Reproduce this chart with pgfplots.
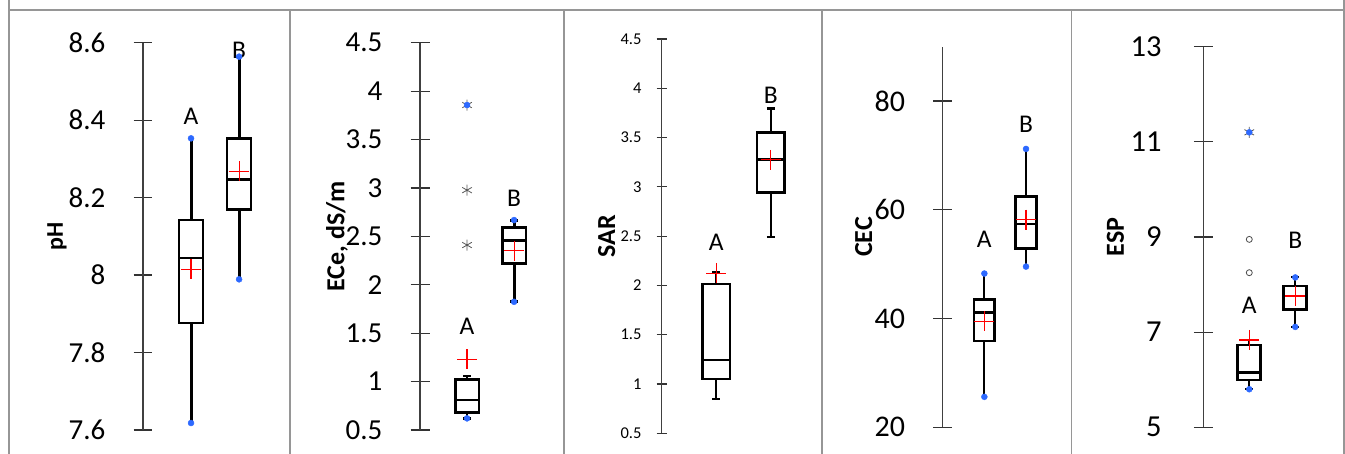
\documentclass[border=0pt]{standalone}
\usepackage{fontspec}
\setmainfont{Carlito}
\usepackage{pgfplots}
\pgfplotsset{compat=1.18}
\usepgfplotslibrary{statistics}
\definecolor{dotblue}{RGB}{45,105,255}
\definecolor{framegray}{RGB}{150,150,150}
\tikzset{letter/.style={font=\fontsize{25.5}{26}\selectfont}}
\pgfplotsset{
  panel/.style={
    scale only axis, clip=false,
    axis x line=none, axis y line=left,
    y axis line style={-, line width=1.2pt, black!75},
    xmin=0, xtick=\empty,
    tick align=center, major tick length=19pt,
    ytick style={line width=1.2pt, black!80},
    yticklabel style={inner sep=0pt, anchor=east, xshift=-28pt, /pgf/number format/assume math mode=true},
    ylabel style={anchor=center, font=\fontsize{26}{27}\selectfont\bfseries},
    boxplot/draw direction=y,
    boxplot/box extend=0.5,
  },
  bx/.style={draw=black, solid, mark=none,
    boxplot/every box/.style={draw=black, line width=2.6pt, fill=white},
    boxplot/every median/.style={line width=2.6pt},
    boxplot/every whisker/.style={line width=#1}},
  ends/.style={only marks, mark=*, mark size=3pt, color=dotblue},
  avg/.style={only marks, mark=+, mark size=10pt, color=red, draw=red, mark options={draw=red, line width=1.1pt}},
  star/.style={only marks, mark=asterisk, mark size=5.5pt, color=black!65, mark options={line width=0.8pt}},
  circ/.style={only marks, mark=o, mark size=3pt, color=black!70, mark options={line width=0.8pt}},
}
\begin{document}
\begin{tikzpicture}
\useasboundingbox (0,0) rectangle (1345pt,454pt);
\fill[white] (0,0) rectangle (1345pt,454pt);
% frame
\draw[framegray, line width=1.5pt] (9pt,454pt) -- (9pt,444pt) -- (1344pt,444pt) -- (1344pt,454pt);
\draw[framegray, line width=1.5pt] (1344pt,444pt) -- (1344pt,0pt);
\draw[framegray, line width=1.5pt] (9pt,444pt) -- (9pt,0pt);
\foreach \xx in {290,564,822,1071.5} \draw[framegray, line width=1.5pt] (\xx pt,444pt) -- (\xx pt,0pt);

% ---------- Panel 1: pH
\begin{axis}[panel, at={(143pt,24pt)}, anchor=south west,
  width=147pt, height=387.3pt, xmax=3.06,
  ymin=7.6, ymax=8.6, ytick={7.6,7.8,8,8.2,8.4,8.6},
  yticklabel style={font=\fontsize{29}{30}\selectfont},
  ylabel={pH}, ylabel style={at={(axis description cs:-0.585,0.5)}, font=\fontsize{24}{25}\selectfont\bfseries},
  boxplot/whisker extend=0]
\addplot[bx=3pt, boxplot prepared={draw position=1, lower whisker=7.618, lower quartile=7.876, median=8.044, upper quartile=8.142, upper whisker=8.353}] coordinates {};
\addplot[bx=3pt, boxplot prepared={draw position=2, lower whisker=7.989, lower quartile=8.170, median=8.247, upper quartile=8.353, upper whisker=8.564}] coordinates {};
\addplot[ends] coordinates {(1,7.618) (1,8.353) (2,7.989) (2,8.564)};
\addplot[avg] coordinates {(1,8.015) (2,8.268)};
\node[letter] at (axis cs:1,8.41) {A};
\node[letter] at (axis cs:2,8.58) {B};
\end{axis}

% ---------- Panel 2: ECe
\begin{axis}[panel, at={(420pt,24pt)}, anchor=south west,
  width=143pt, height=387.3pt, xmax=3.04,
  ymin=0.5, ymax=4.5, ytick={0.5,1,1.5,2,2.5,3,3.5,4,4.5},
  yticklabel style={font=\fontsize{29}{30}\selectfont},
  ylabel={ECe, dS/m}, ylabel style={at={(axis description cs:-0.58,0.5)}},
  boxplot/whisker extend=0.17]
\addplot[bx=2.5pt, boxplot prepared={draw position=1, lower whisker=0.62, lower quartile=0.678, median=0.809, upper quartile=1.023, upper whisker=1.06}] coordinates {};
\addplot[bx=3pt, boxplot prepared={draw position=2, lower whisker=1.824, lower quartile=2.22, median=2.46, upper quartile=2.593, upper whisker=2.668}] coordinates {};
\addplot[star] coordinates {(1,3.856) (1,2.977) (1,2.41)};
\addplot[ends] coordinates {(1,0.62) (1,3.856) (2,1.824) (2,2.668)};
\addplot[avg] coordinates {(1,1.23) (2,2.35)};
\node[letter] at (axis cs:1,1.57) {A};
\node[letter] at (axis cs:2,2.89) {B};
\end{axis}

% ---------- Panel 3: SAR
\begin{axis}[panel, at={(661.7pt,20.7pt)}, anchor=south west,
  width=160.3pt, height=394.3pt, xmax=2.94,
  ymin=0.5, ymax=4.5, ytick={0.5,1,1.5,2,2.5,3,3.5,4,4.5},
  major tick length=10pt,
  yticklabel style={font=\fontsize{16.5}{17}\selectfont, xshift=13pt},
  ylabel={SAR}, ylabel style={at={(axis description cs:-0.343,0.5)}},
  boxplot/whisker extend=0.14]
\addplot[bx=2.5pt, boxplot prepared={draw position=1, lower whisker=0.846, lower quartile=1.052, median=1.244, upper quartile=2.015, upper whisker=2.13}] coordinates {};
\addplot[bx=2.5pt, boxplot prepared={draw position=2, lower whisker=2.489, lower quartile=2.941, median=3.28, upper quartile=3.55, upper whisker=3.797}] coordinates {};
\addplot[avg] coordinates {(1,2.124) (2,3.273)};
\node[letter] at (axis cs:1,2.44) {A};
\node[letter] at (axis cs:2,3.93) {B};
\end{axis}

% ---------- Panel 4: CEC
\begin{axis}[panel, at={(942.7pt,26.7pt)}, anchor=south west,
  width=128.3pt, height=380.6pt, xmax=3.08,
  ymin=20, ymax=90, ytick={20,40,60,80},
  yticklabel style={font=\fontsize{30}{31}\selectfont},
  ylabel={CEC}, ylabel style={at={(axis description cs:-0.616,0.5)}},
  boxplot/whisker extend=0]
\addplot[bx=2.2pt, boxplot prepared={draw position=1, lower whisker=25.6, lower quartile=35.84, median=41.15, upper quartile=43.47, upper whisker=48.28}] coordinates {};
\addplot[bx=2.2pt, boxplot prepared={draw position=2, lower whisker=49.56, lower quartile=52.9, median=57.4, upper quartile=62.5, upper whisker=71.2}] coordinates {};
\addplot[ends] coordinates {(1,25.6) (1,48.28) (2,49.56) (2,71.2)};
\addplot[avg] coordinates {(1,39.5) (2,58.2)};
\node[letter] at (axis cs:1,54.6) {A};
\node[letter] at (axis cs:2,75.7) {B};
\end{axis}

% ---------- Panel 5: ESP
\begin{axis}[panel, at={(1203.3pt,26.7pt)}, anchor=south west,
  width=140.7pt, height=380.6pt, xmax=3.06,
  ymin=5, ymax=13, ytick={5,7,9,11,13},
  yticklabel style={font=\fontsize{30.5}{31}\selectfont, xshift=-4pt},
  ylabel={ESP}, ylabel style={at={(axis description cs:-0.625,0.5)}},
  boxplot/whisker extend=0.17]
\addplot[bx=2pt, boxplot prepared={draw position=1, lower whisker=5.8, lower quartile=5.994, median=6.156, upper quartile=6.73, upper whisker=6.83}] coordinates {};
\addplot[bx=2pt, boxplot prepared={draw position=2, lower whisker=7.11, lower quartile=7.48, median=7.76, upper quartile=7.97, upper whisker=8.15}] coordinates {};
\addplot[star] coordinates {(1,11.2)};
\addplot[circ] coordinates {(1,8.95) (1,8.25)};
\addplot[ends] coordinates {(1,5.8) (1,11.2) (2,7.11) (2,8.15)};
\addplot[avg] coordinates {(1,6.835) (2,7.76)};
\node[letter] at (axis cs:1,7.57) {A};
\node[letter] at (axis cs:2,8.92) {B};
\end{axis}
\end{tikzpicture}
\end{document}
